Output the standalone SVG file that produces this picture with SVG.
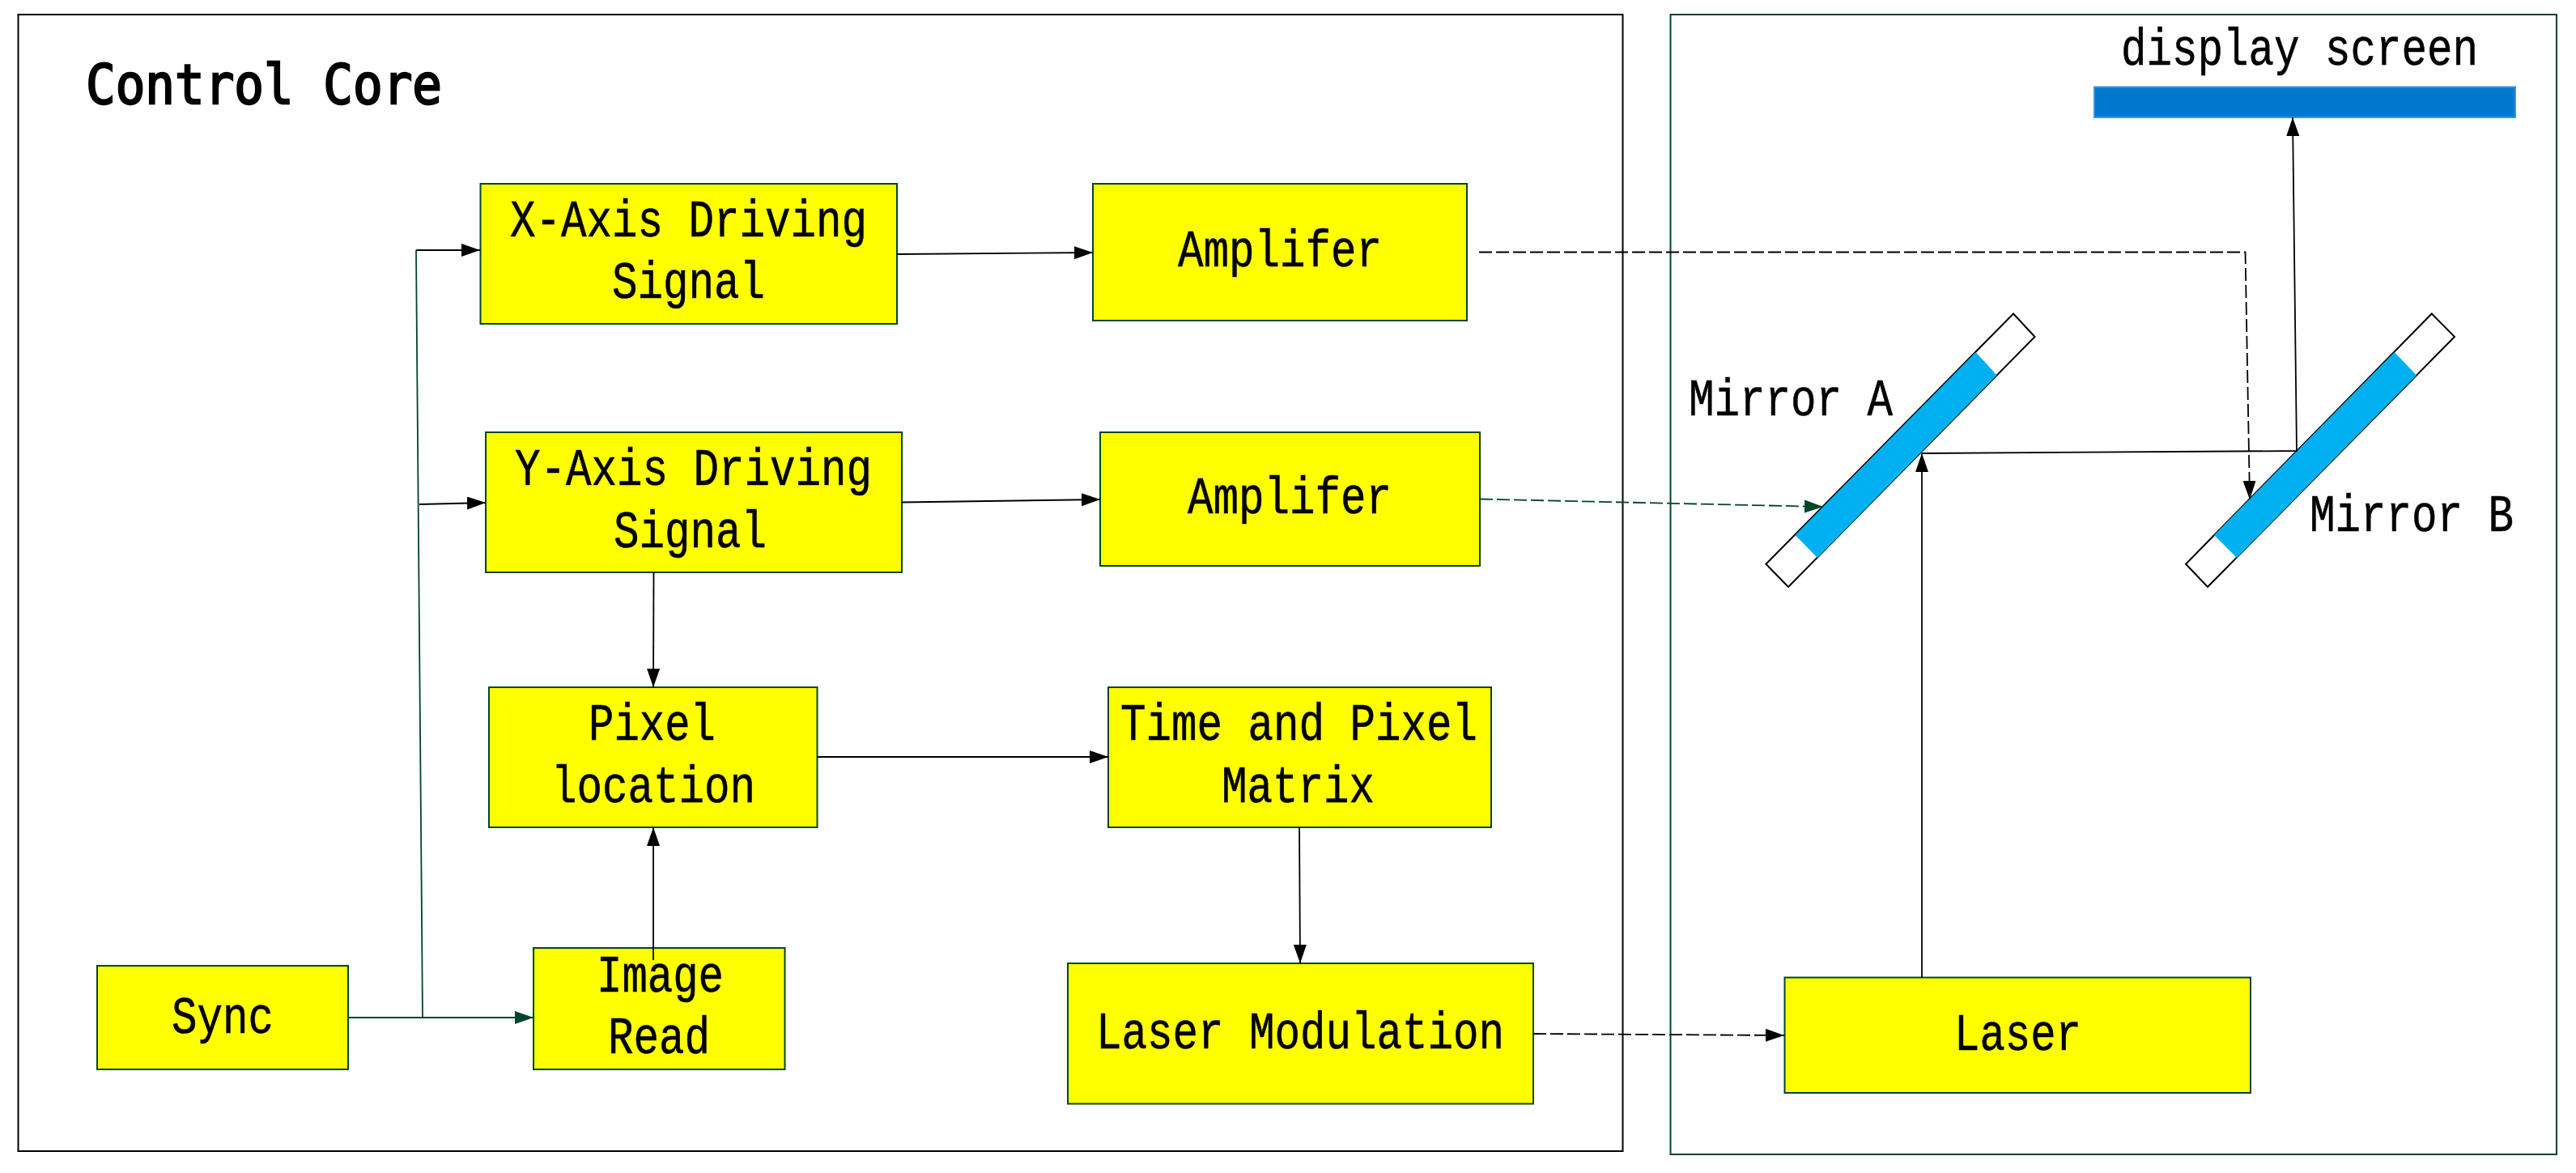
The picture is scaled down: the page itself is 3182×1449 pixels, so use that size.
<svg xmlns="http://www.w3.org/2000/svg" width="3182" height="1449" viewBox="0 0 3182 1449">
<style>
text{font-family:"Liberation Mono",monospace;font-size:64px;fill:#000;stroke:#000;stroke-width:.6}
.title{font-family:"DejaVu Sans Mono",monospace;font-size:68px;stroke-width:2.4}
.frame{fill:none;stroke-width:2}
.n{fill:#ffff00;stroke:#00452a;stroke-width:2}
.c{fill:none;stroke:#000;stroke-width:1.8}
.g{stroke:#00452a}
.d{stroke-dasharray:16 5}
.mo{fill:#fff;stroke:#000;stroke-width:2}
.mi{fill:#00b0f0}
</style>
<defs>
<marker id="a" markerUnits="userSpaceOnUse" markerWidth="24" markerHeight="18" refX="23" refY="8" orient="auto"><path d="M0 0L23 8L0 16Z" fill="#000"/></marker>
<marker id="ag" markerUnits="userSpaceOnUse" markerWidth="24" markerHeight="18" refX="23" refY="8" orient="auto"><path d="M0 0L23 8L0 16Z" fill="#00452a"/></marker>
</defs>
<rect width="3182" height="1449" fill="#fff"/>
<g id="control-core"><rect class="frame" x="22.5" y="18" width="1982" height="1404" stroke="#000"/>
<text class="title" x="106" y="128" textLength="440" lengthAdjust="spacingAndGlyphs">Control Core</text></g>
<g id="optics-frame"><rect class="frame" x="2063.500" y="18" width="1094.500" height="1408" stroke="#00452a"/></g>
<g id="x-axis"><rect class="n" x="593.500" y="227" width="514.500" height="173"/>
<text x="630" y="292" textLength="441" lengthAdjust="spacingAndGlyphs">X-Axis Driving</text>
<text x="756" y="368" textLength="189" lengthAdjust="spacingAndGlyphs">Signal</text></g>
<g id="amp-x"><rect class="n" x="1350" y="227" width="462" height="169"/>
<text x="1455" y="329" textLength="252" lengthAdjust="spacingAndGlyphs">Amplifer</text></g>
<g id="y-axis"><rect class="n" x="600" y="534" width="514" height="173"/>
<text x="636" y="599" textLength="441" lengthAdjust="spacingAndGlyphs">Y-Axis Driving</text>
<text x="758" y="676" textLength="189" lengthAdjust="spacingAndGlyphs">Signal</text></g>
<g id="amp-y"><rect class="n" x="1359" y="534" width="469" height="165"/>
<text x="1467" y="634" textLength="252" lengthAdjust="spacingAndGlyphs">Amplifer</text></g>
<g id="pixel"><rect class="n" x="604" y="849" width="405.500" height="173"/>
<text x="727" y="914" textLength="157" lengthAdjust="spacingAndGlyphs">Pixel</text>
<text x="681" y="991" textLength="252" lengthAdjust="spacingAndGlyphs">location</text></g>
<g id="time"><rect class="n" x="1369" y="849" width="473" height="173"/>
<text x="1384" y="914" textLength="441" lengthAdjust="spacingAndGlyphs">Time and Pixel</text>
<text x="1509" y="991" textLength="189" lengthAdjust="spacingAndGlyphs">Matrix</text></g>
<g id="laser-mod"><rect class="n" x="1319" y="1190" width="575" height="173.500"/>
<text x="1354" y="1295" textLength="504" lengthAdjust="spacingAndGlyphs">Laser Modulation</text></g>
<g id="sync"><rect class="n" x="120" y="1193" width="310" height="128"/>
<text x="212" y="1276" textLength="126" lengthAdjust="spacingAndGlyphs">Sync</text></g>
<g id="image-read"><rect class="n" x="659" y="1171" width="310.500" height="150"/>
<text x="737" y="1225" textLength="157" lengthAdjust="spacingAndGlyphs">Image</text>
<text x="751" y="1301" textLength="126" lengthAdjust="spacingAndGlyphs">Read</text></g>
<g id="laser"><rect class="n" x="2204.500" y="1207.500" width="575.500" height="142.500"/>
<text x="2414" y="1297" textLength="157" lengthAdjust="spacingAndGlyphs">Laser</text></g>
<g id="screen"><rect x="2587" y="107.500" width="520" height="37.500" fill="#0078d0" stroke="#3a96e0" stroke-width="2"/>
<text x="2620" y="80" textLength="441" lengthAdjust="spacingAndGlyphs">display screen</text></g>
<g id="mirror-a"><polygon class="mo" points="2487,387.500 2513.500,416 2209,725 2181.400,696.700"/>
<polygon class="mi" points="2440.600,435 2466.600,463.500 2245,689 2217.500,661"/>
<text x="2086" y="513" textLength="252" lengthAdjust="spacingAndGlyphs">Mirror A</text></g>
<g id="mirror-b"><polygon class="mo" points="3003.800,387.500 3032,416 2727,725 2700,696.700"/>
<polygon class="mi" points="2957.600,435 2985,463.500 2763,689 2735,661"/>
<text x="2853" y="656" textLength="252" lengthAdjust="spacingAndGlyphs">Mirror B</text></g>
<g id="connectors">
<path class="c g" d="M430 1257H659" marker-end="url(#ag)"/>
<path class="c g" d="M522 1257L514 309"/>
<path class="c" d="M514 309H593" marker-end="url(#a)"/>
<path class="c" d="M518 623L600 621" marker-end="url(#a)"/>
<path class="c" d="M1108 314L1350 312" marker-end="url(#a)"/>
<path class="c" d="M1114 620.500L1359 617" marker-end="url(#a)"/>
<path class="c d" d="M1827 311.500H2773.500L2779 617" marker-end="url(#a)"/>
<path class="c g d" d="M1828 616.500L2252 626" marker-end="url(#ag)"/>
<path class="c" d="M807.500 707L807 849" marker-end="url(#a)"/>
<path class="c" d="M807 1186V1022" marker-end="url(#a)"/>
<path class="c" d="M1009.500 935H1369" marker-end="url(#a)"/>
<path class="c" d="M1605 1022L1606 1190" marker-end="url(#a)"/>
<path class="c d" d="M1894 1277L2204 1279" marker-end="url(#a)"/>
<path class="c" d="M2374 1207.500V560" marker-end="url(#a)"/>
<path class="c" d="M2374 560L2837 557L2832 145" marker-end="url(#a)"/>
</g>
</svg>
